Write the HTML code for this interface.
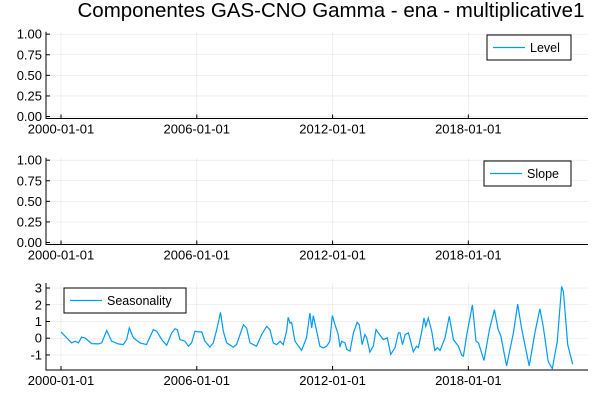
<!DOCTYPE html>
<html><head><meta charset="utf-8"><style>
body{margin:0;background:#fff}
svg text{font-family:"Liberation Sans","DejaVu Sans",sans-serif}
</style></head><body>
<svg id="c" width="600" height="400" xmlns="http://www.w3.org/2000/svg">
<text x="331" y="17" text-anchor="middle" font-size="20.5" fill="#000">Componentes GAS-CNO Gamma - ena - multiplicative1</text>
</svg>
<script>
const xTickLabels = ["2000-01-01","2006-01-01","2012-01-01","2018-01-01"];
const xTickYears = [2000,2006,2012,2018];
const levelTicks = [0,0.25,0.5,0.75,1];
const slopeTicks = [0,0.25,0.5,0.75,1];
const seasTicks = [-1,0,1,2,3];
const seasDates = [2000.00,2000.47,2000.62,2000.77,2000.91,2001.06,2001.35,2001.65,2001.80,2002.02,2002.24,2002.53,2002.75,2002.90,2003.02,2003.20,2003.49,2003.78,2004.08,2004.23,2004.45,2004.67,2004.89,2005.04,2005.14,2005.26,2005.48,2005.63,2005.77,2005.92,2006.07,2006.22,2006.36,2006.58,2006.73,2006.88,2007.05,2007.17,2007.32,2007.61,2007.76,2008.06,2008.20,2008.35,2008.64,2008.87,2009.09,2009.23,2009.38,2009.53,2009.68,2009.82,2009.97,2010.04,2010.12,2010.19,2010.34,2010.63,2010.85,2011.00,2011.08,2011.15,2011.30,2011.44,2011.59,2011.74,2011.88,2011.99,2012.11,2012.25,2012.33,2012.40,2012.55,2012.63,2012.77,2012.92,2013.09,2013.18,2013.31,2013.43,2013.51,2013.65,2013.80,2013.92,2014.02,2014.24,2014.42,2014.57,2014.76,2014.91,2014.98,2015.09,2015.21,2015.35,2015.45,2015.57,2015.71,2015.79,2015.93,2016.04,2016.12,2016.23,2016.38,2016.52,2016.63,2016.75,2016.97,2017.16,2017.34,2017.56,2017.71,2017.78,2017.93,2018.18,2018.34,2018.45,2018.69,2018.93,2019.15,2019.32,2019.44,2019.69,2019.99,2020.18,2020.35,2020.69,2020.94,2021.16,2021.31,2021.53,2021.71,2021.93,2022.12,2022.20,2022.39,2022.61];
const seasValues = [0.38,-0.28,-0.18,-0.28,0.06,0.02,-0.32,-0.34,-0.28,0.46,-0.18,-0.34,-0.38,-0.08,0.61,0.02,-0.28,-0.38,0.51,0.42,-0.08,-0.42,0.32,0.57,0.51,-0.08,-0.18,-0.48,-0.28,0.42,0.38,0.38,-0.18,-0.53,-0.28,0.51,1.54,0.42,-0.28,-0.53,-0.38,0.81,0.61,-0.28,-0.48,0.22,0.71,0.51,-0.28,-0.38,-0.18,-0.38,0.42,1.25,0.91,0.95,-0.18,-0.73,0.02,1.50,0.61,1.35,0.42,-0.48,-0.58,-0.48,-0.18,1.35,0.81,0.22,-0.53,-0.18,-0.28,-0.67,-0.77,0.32,0.95,0.81,-0.38,0.22,0.02,-0.83,-0.48,0.51,0.32,-0.08,0.02,-0.97,-0.57,0.32,0.32,-0.38,0.22,0.32,-0.18,-0.81,-0.48,-0.57,0.32,1.21,0.71,1.21,0.42,-0.73,-0.57,-0.73,0.02,1.31,-0.08,-0.48,-1.03,-1.07,0.22,2.00,-0.18,-0.28,-1.33,0.51,1.70,0.51,0.12,-1.66,0.32,2.04,0.61,-1.66,0.32,1.76,0.71,-1.40,-1.82,-0.18,3.09,2.79,-0.38,-1.56];
const levelValues = [];
const slopeValues = [];
const flatDates = [];

const NS="http://www.w3.org/2000/svg";
const svg=document.getElementById('c');
const L=46,R=588;
const xs=y=>61+(y-2000)*22.63;
function mk(t,a,p){const e=document.createElementNS(NS,t);for(const k in a)e.setAttribute(k,a[k]);(p||svg).appendChild(e);return e;}

function panel(name,top,bottom,ymin,ymax,ticks,fmt,dates,vals,legend,lx,ly,lw){
  const ys=v=>bottom-(v-ymin)/(ymax-ymin)*(bottom-top);
  const g=mk('g',{});
  
  
  xTickYears.forEach((yr,i)=>{
    const gl=mk('line',{x1:xs(yr),x2:xs(yr),y1:top,y2:bottom,stroke:'#000','stroke-opacity':0.1,'stroke-width':0.6},g);
    
    
    mk('line',{x1:xs(yr),x2:xs(yr),y1:bottom,y2:bottom-4,stroke:'#000','stroke-width':1},g);
    const t=mk('text',{x:xs(yr),y:bottom+15,'text-anchor':'middle','font-size':13,fill:'#000'},g);
    t.textContent=xTickLabels[i];
    
    
  });
  ticks.forEach(v=>{
    const gl=mk('line',{x1:L,x2:R,y1:ys(v),y2:ys(v),stroke:'#000','stroke-opacity':0.1,'stroke-width':0.6},g);
    
    
    mk('line',{x1:L,x2:L+4,y1:ys(v),y2:ys(v),stroke:'#000','stroke-width':1},g);
    const t=mk('text',{x:L-4,y:ys(v)+4.5,'text-anchor':'end','font-size':13,fill:'#000'},g);
    t.textContent=fmt(v);
    
    
  });
  const ax=mk('path',{d:`M${L},${top}V${bottom}H${R}`,fill:'none',stroke:'#000','stroke-width':1},g);
  
  
  if(dates.length){
    const pts=dates.map((d,i)=>xs(d).toFixed(1)+','+ys(vals[i]).toFixed(1)).join(' ');
    const pl=mk('polyline',{points:pts,fill:'none',stroke:'#009af9','stroke-width':1.2},g);
    
    
  }
  const lg=mk('g',{},g);
  
  
  mk('rect',{x:lx,y:ly,width:lw,height:25,fill:'#fff',stroke:'#000','stroke-width':1},lg);
  mk('line',{x1:lx+6,x2:lx+38,y1:ly+12.5,y2:ly+12.5,stroke:'#009af9','stroke-width':1.2},lg);
  const lt=mk('text',{x:lx+43,y:ly+17,'font-size':12.5,fill:'#000'},lg);
  lt.textContent=legend;
  
  
}
const f2=v=>v.toFixed(2), f0=v=>String(v);
panel('level',31.7,118.5,-0.024,1.03,levelTicks,f2,flatDates,levelValues,'Level',487,35,84);
panel('slope',157.7,244.5,-0.024,1.03,slopeTicks,f2,flatDates,slopeValues,'Slope',484,161,87);
panel('seasonality',283,370,-1.9,3.3,seasTicks,f0,seasDates,seasValues,'Seasonality',64,288,122);
</script>
</body></html>
